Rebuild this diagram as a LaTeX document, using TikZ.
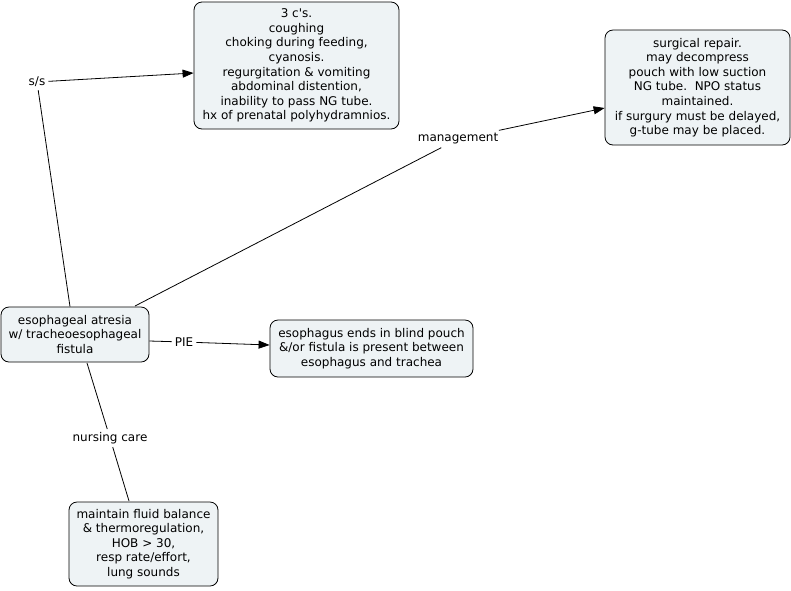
\documentclass[tikz,border=0pt]{standalone}
\usepackage{fontspec}
\setmainfont{DejaVu Sans}[Ligatures=TeXOff]
\usetikzlibrary{arrows.meta}
\definecolor{boxfill}{HTML}{EEF3F5}
\begin{document}
\begin{tikzpicture}[x=1pt,y=-1pt,
  box/.style={draw=black, fill=boxfill, rounded corners=8pt, align=center, inner sep=0pt, line width=0.8pt,
    font=\fontsize{12}{14.6}\selectfont},
  lbl/.style={inner sep=3pt, font=\fontsize{12}{13}\selectfont},
  conn/.style={draw=black, line width=0.8pt},
  arr/.style={conn, -{Triangle[length=11pt,width=8pt]}}]
\useasboundingbox (0,0) rectangle (791,590);
\node[box, minimum width=205pt, minimum height=127pt] (ssbox) at (296.5,65.5)
  {3 c's.\\coughing\\choking during feeding,\\cyanosis.\\regurgitation \& vomiting\\abdominal distention,\\inability to pass NG tube.\\hx of prenatal polyhydramnios.};
\node[box, minimum width=185pt, minimum height=115pt] (mgbox) at (697.5,87.5)
  {surgical repair.\\may decompress\\pouch with low suction\\NG tube.\ \ NPO status\\maintained.\\if surgury must be delayed,\\g-tube may be placed.};
\node[box, minimum width=148pt, minimum height=55pt] (main) at (75,334.5)
  {esophageal atresia\\w/ tracheoesophageal\\fistula};
\node[box, minimum width=203pt, minimum height=57pt] (piebox) at (371.5,348.5)
  {esophagus ends in blind pouch\\\&/or fistula is present between\\esophagus and trachea};
\node[box, minimum width=149pt, minimum height=84pt] (nbox) at (143.5,544)
  {maintain fluid balance\\\& thermoregulation,\\HOB > 30,\\resp rate/effort,\\lung sounds};
\node[lbl] (ss) at (37,82) {s/s};
\node[lbl] (mg) at (458,139) {management};
\node[lbl] (pie) at (184,342) {PIE};
\node[lbl] (nc) at (110,438) {nursing care};
\draw[conn] (main.north -| 70,0) -- (ss);
\draw[arr] (ss) -- (ssbox.west |- 0,73);
\draw[conn] (135,306) -- (mg);
\draw[arr] (mg) -- (mgbox.west |- 0,108);
\draw[conn] (main.east |- 0,341) -- (pie);
\draw[arr] (pie) -- (piebox.west |- 0,345);
\draw[conn] (87,363) -- (nc);
\draw[conn] (nc) -- (129,501);
\end{tikzpicture}
\end{document}
